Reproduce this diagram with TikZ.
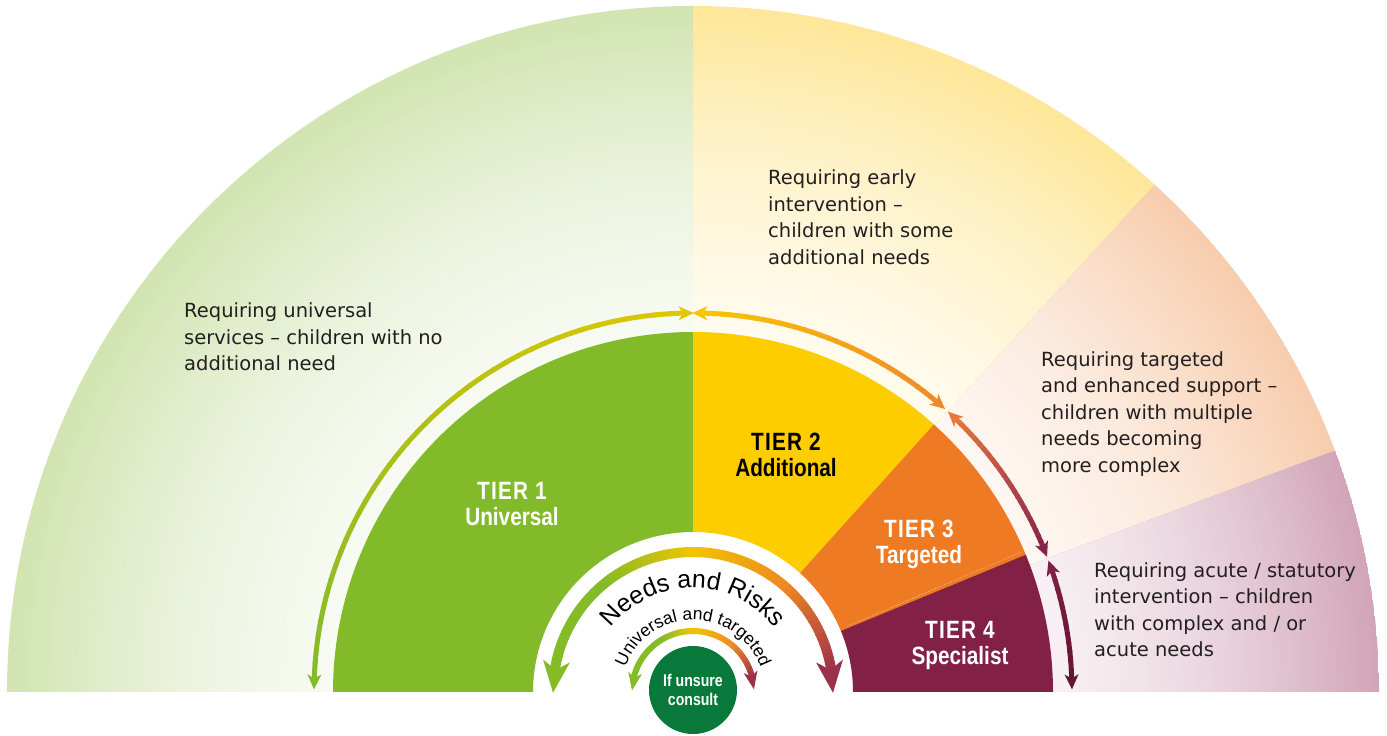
\documentclass[tikz,border=0pt]{standalone}
\usepackage{fontspec}
\setmainfont{DejaVu Sans}
\newfontfamily\tierfont{Liberation Sans}[FakeStretch=0.83]
\newfontfamily\arcfont{Liberation Sans}
\usetikzlibrary{calc,decorations.text}

\definecolor{fgreen}{HTML}{D2E4B2}
\definecolor{fyellow}{HTML}{FEE79A}
\definecolor{fpeach}{HTML}{F7CDAE}
\definecolor{fpurple}{HTML}{D2A6B8}
\definecolor{tone}{HTML}{82BA29}
\definecolor{ttwo}{HTML}{FDCD00}
\definecolor{tthree}{HTML}{EE7A24}
\definecolor{tfour}{HTML}{832046}
\definecolor{cgreen}{HTML}{08793B}
\definecolor{txt}{HTML}{231F20}
\definecolor{agreen}{HTML}{85BA2A}
\definecolor{aolive}{HTML}{DEC800}
\definecolor{ayellow}{HTML}{F9C500}
\definecolor{aorange}{HTML}{EE8A2C}
\definecolor{aorangeb}{HTML}{E6783A}
\definecolor{ared}{HTML}{B84A48}
\definecolor{amaroon}{HTML}{872448}
\definecolor{adarka}{HTML}{7D1F45}
\definecolor{adarkb}{HTML}{661433}
\definecolor{igreen}{HTML}{86BB28}
\definecolor{iyellow}{HTML}{F2C400}
\definecolor{iorange}{HTML}{EF8A22}
\definecolor{imaroon}{HTML}{9C2F4A}

% fan sector with a radial fade from the centre outwards
\newcommand\fanpart[3]{%
\begin{scope}
\clip (C) -- ($(C)+(#1:686)$) arc[start angle=#1, end angle=#2, radius=686] -- cycle;
\foreach \i in {0,...,55}{%
  \pgfmathsetmacro\fanR{686-\i*7}%
  \pgfmathsetmacro\fanT{max(0,min(1,(\fanR-3.5-300)/380))}%
  \pgfmathsetmacro\fanP{10+90*\fanT*(0.35+0.65*\fanT)}%
  \fill[#3!\fanP!white] (C) circle (\fanR);
}
\end{scope}}

% annular tier sector
\newcommand\tierpart[3]{%
\fill[#3] ($(C)+(#1:160)$) -- ($(C)+(#1:360)$) arc[start angle=#1, end angle=#2, radius=360]
  -- ($(C)+(#2:160)$) arc[start angle=#2, end angle=#1, radius=160] -- cycle;}

% arc stroked with a colour gradient: radius, from, to, width, c1, c2, steps
\newcommand\gradarc[7]{%
\foreach \k in {1,...,#7}{%
  \pgfmathsetmacro\angA{#2+(#3-#2)*(\k-1)/#7}%
  \pgfmathsetmacro\sgn{((#3)>(#2))*2-1}%
  \pgfmathsetmacro\angB{#2+(#3-#2)*\k/#7+0.25*\sgn}%
  \pgfmathsetmacro\mixP{100-100*(\k-0.5)/#7}%
  \draw[line width=#4, #5!\mixP!#6] ($(C)+(\angA:#1)$) arc[start angle=\angA, end angle=\angB, radius=#1];
}}

% arrow head on a circle: colour, radius, tip angle, back angle, half width
\newcommand\arrowhd[5]{%
\path ($(C)+(#3:#2)$) coordinate (tp) ($(C)+(#4:#2)$) coordinate (bk);
\fill[#1] (tp) -- ($(bk)!#5!90:(tp)$) -- ($(bk)!0.28!(tp)$) -- ($(bk)!#5!-90:(tp)$) -- cycle;}

\newcommand\tierline[1]{{\addfontfeature{LetterSpace=5}#1}}

\begin{document}
\begin{tikzpicture}[x=1pt,y=1pt,
  bodytext/.style={anchor=north west, inner sep=0pt, align=left, text=txt,
    font=\fontsize{19.5}{26.5}\selectfont},
  tierlabel/.style={anchor=north, inner sep=0pt, align=center,
    font=\tierfont\bfseries\fontsize{25}{26}\selectfont}]
\fill[white] (0,0) rectangle (1387,736);
\useasboundingbox (0,0) rectangle (1387,736);
\coordinate (C) at (693,44);

% outer fan
\fanpart{90}{180}{fgreen}
\fanpart{47.7}{90}{fyellow}
\fanpart{20.6}{47.7}{fpeach}
\fanpart{0}{20.6}{fpurple}

% white inner disk
\fill[white] ($(C)+(0:161)$) arc[start angle=0, end angle=180, radius=161] -- cycle;

% tiers
\tierpart{89.8}{180}{tone}
\tierpart{47.8}{90}{ttwo}
\tierpart{22.2}{48}{tthree}
\tierpart{0}{22.4}{tfour}
\draw[white!55!tthree, line width=0.7pt, dash pattern=on 1pt off 1.5pt]
  ($(C)+(23.1:168)$) -- ($(C)+(23.1:356)$);

% outer arrows
\gradarc{379}{177.9}{91.6}{5pt}{agreen}{aolive}{40}
\arrowhd{agreen}{379}{179.6}{177.33}{7pt}
\arrowhd{aolive}{379}{89.9}{92.17}{7pt}

\gradarc{379}{88.4}{50.0}{5pt}{ayellow}{aorange}{30}
\arrowhd{ayellow}{379}{90.1}{87.83}{7pt}
\arrowhd{aorange}{379}{48.3}{50.57}{7pt}

\gradarc{379}{46.0}{34.0}{5pt}{aorangeb}{ared}{12}
\gradarc{379}{34.0}{22.6}{5pt}{ared}{amaroon}{12}
\arrowhd{aorangeb}{379}{47.7}{45.43}{7pt}
\arrowhd{amaroon}{379}{20.9}{23.17}{7pt}

\gradarc{379}{18.6}{2.1}{5pt}{adarka}{adarkb}{12}
\arrowhd{adarka}{379}{20.3}{18.03}{7pt}
\arrowhd{adarkb}{379}{0.4}{2.67}{7pt}

% Needs and Risks arrow
\gradarc{140}{171.9}{128}{10pt}{igreen}{igreen}{6}
\gradarc{140}{128}{90}{10pt}{igreen}{iyellow}{20}
\gradarc{140}{90}{50}{10pt}{iyellow}{iorange}{20}
\gradarc{140}{50}{8.1}{10pt}{iorange}{imaroon}{20}
\arrowhd{igreen}{140}{180.3}{167.2}{13.5pt}
\arrowhd{imaroon}{140}{-0.3}{12.8}{13.5pt}

% small arrow
\gradarc{61}{166.4}{118}{6pt}{igreen}{igreen}{6}
\gradarc{61}{118}{90}{6pt}{igreen}{iyellow}{14}
\gradarc{61}{90}{50}{6pt}{iyellow}{iorange}{16}
\gradarc{61}{50}{14.6}{6pt}{iorange}{imaroon}{16}
\arrowhd{igreen}{61}{178.5}{161.6}{7pt}
\arrowhd{imaroon}{61}{2.5}{19.4}{7pt}

% arc texts
\path[decorate, decoration={text along path, text align=center,
  text={|\arcfont\fontsize{25}{25}\selectfont|Needs and Risks}}]
  ($(C)+(170:104)$) arc[start angle=170, end angle=10, radius=104];
\path[decorate, decoration={text along path, text align=center,
  text={|\arcfont\fontsize{17.5}{17.5}\selectfont|Universal and targeted}}]
  ($(C)+(175:72)$) arc[start angle=175, end angle=5, radius=72];

% centre
\fill[cgreen] (693,46) circle (44);
\node[tierlabel, text=white, font=\tierfont\bfseries\fontsize{17}{18.3}\selectfont]
  (consult) at (693,61.7) {If unsure\\consult};

% tier labels
\node[tierlabel, text=white] (tier1) at (512,254.2) {\tierline{TIER 1}\\Universal};
\node[tierlabel, text=black] (tier2) at (786,303.2) {\tierline{TIER 2}\\Additional};
\node[tierlabel, text=white] (tier3) at (919,216.2) {\tierline{TIER 3}\\Targeted};
\node[tierlabel, text=white] (tier4) at (960,115.2) {\tierline{TIER 4}\\Specialist};

% descriptions
\node[bodytext] (dgreen) at (184,433.5) {Requiring universal\\services – children with no\\additional need};
\node[bodytext] (dyellow) at (768,566.3) {Requiring early\\intervention –\\children with some\\additional needs};
\node[bodytext] (dpeach) at (1041,384.8) {Requiring targeted\\and enhanced support –\\children with multiple\\needs becoming\\more complex};
\node[bodytext] (dpurple) at (1094,174) {Requiring acute / statutory\\intervention – children\\with complex and / or\\acute needs};
\end{tikzpicture}
\end{document}
